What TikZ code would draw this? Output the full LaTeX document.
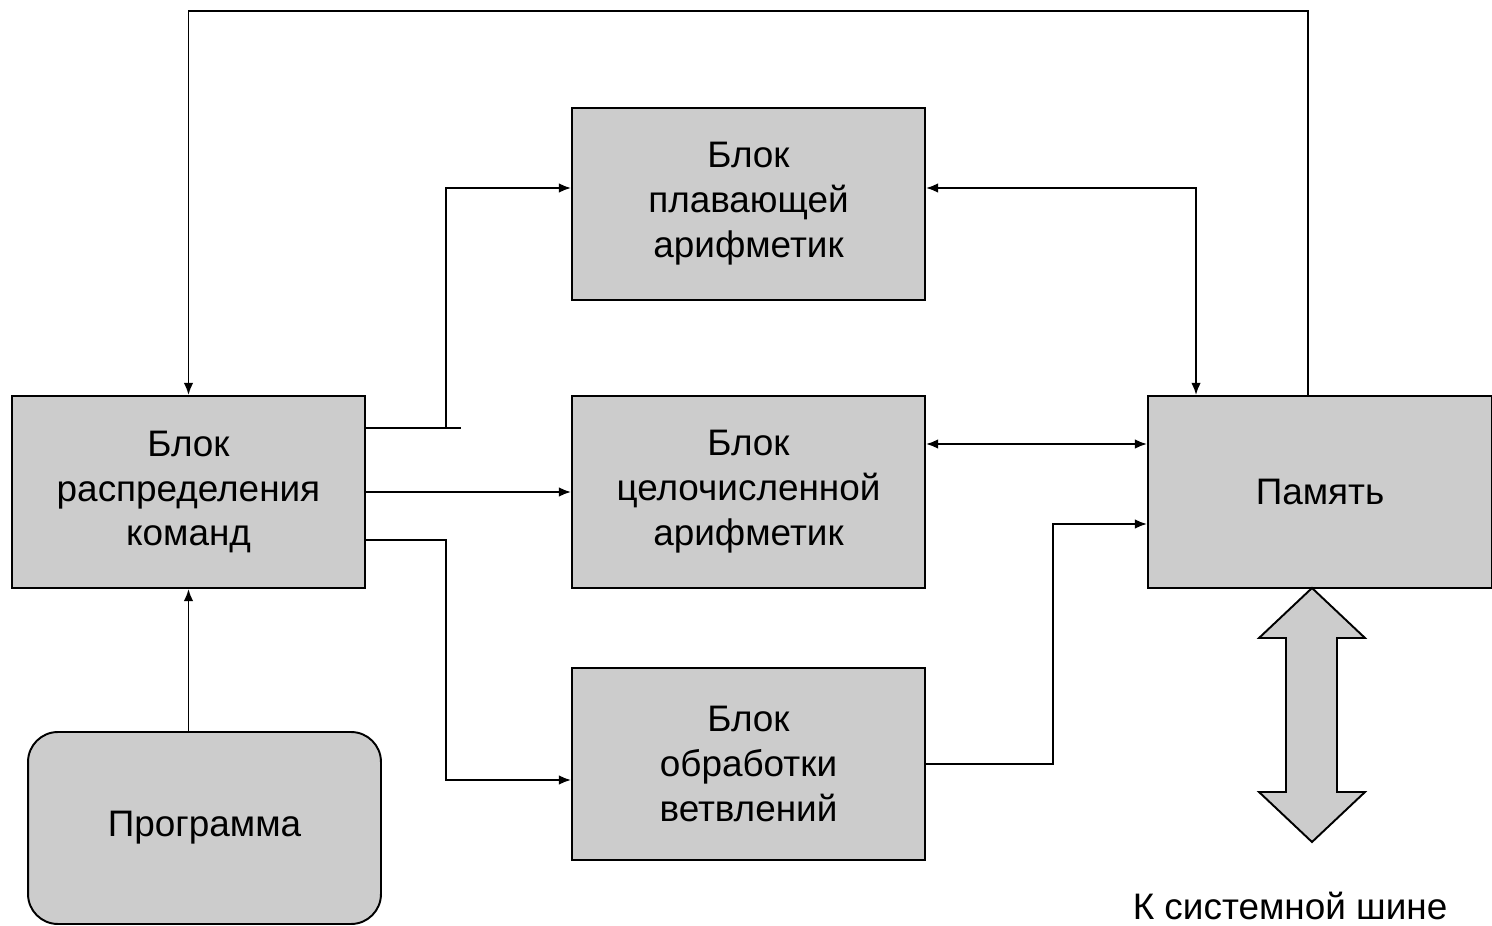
\documentclass[tikz,border=0pt]{standalone}
\usepackage{fontspec}
\setmainfont{Liberation Sans}
\usetikzlibrary{arrows.meta,positioning,calc}
\definecolor{BlockGray}{RGB}{204,204,204}

\begin{document}
\begin{tikzpicture}[x=0.02cm, y=-0.02cm, line width=1.1pt,
    font=\fontsize{21}{25.6}\selectfont, every node/.style={align=center},
    block/.style={draw, fill=BlockGray, minimum width=7.06cm, minimum height=3.84cm, inner sep=0pt},
    tip/.style={-{Latex[length=7pt,width=5.5pt]}},
    tips/.style={{Latex[length=7pt,width=5.5pt]}-{Latex[length=7pt,width=5.5pt]}}]
        \useasboundingbox (0,0) rectangle (1492,926);

        % Blocks
        \node[block] (dist) at (188.5,492) {Блок\\распределения\\команд};
        \node[block, rounded corners=17pt] (prog) at (204.5,828) {Программа};
        \node[block] (float) at (748.5,204) {Блок\\плавающей\\арифметик};
        \node[block] (int) at (748.5,492) {Блок\\целочисленной\\арифметик};
        \node[block] (branch) at (748.5,764) {Блок\\обработки\\ветвлений};
        \node[block, minimum width=6.88cm] (mem) at (1320,492) {Память};

        % Fork points
        \coordinate (fork) at ($(dist.east)+(80,-64)$);
        \coordinate (stub) at ($(dist.east)+(95,-64)$);

        % Command distribution
        \draw (dist.east |- fork) -- (stub);
        \draw[tip] (fork) |- ([yshift=0.32cm]float.west);
        \draw[tip] (dist.east) -- (int.west);
        \draw[tip] ([yshift=-0.96cm]dist.east) -- ++(80,0) |- ([yshift=-0.32cm]branch.west);

        % Memory links
        \draw[tips] ([yshift=0.32cm]float.east) -| ([xshift=-2.48cm]mem.north);
        \draw[tips] ([yshift=0.96cm]int.east) -- ([yshift=0.96cm]mem.west);
        \draw[tip] (branch.east) -- ++(127,0) |- ([yshift=-0.64cm]mem.west);
        \draw[tip] ([xshift=-0.24cm]mem.north) -- ++(0,-384) -| (dist.north);
        \draw[tip] (prog.north -| dist.south) -- (dist.south);

        % System bus
        \draw[fill=BlockGray, line join=miter] (1312,588) -- (1365,638) -- (1337,638) -- (1337,792)
          -- (1365,792) -- (1312,842) -- (1259,792) -- (1286,792) -- (1286,638) -- (1259,638) -- cycle;
        \node (bus) at (1290,906) {К системной шине};
      \end{tikzpicture}
\end{document}
